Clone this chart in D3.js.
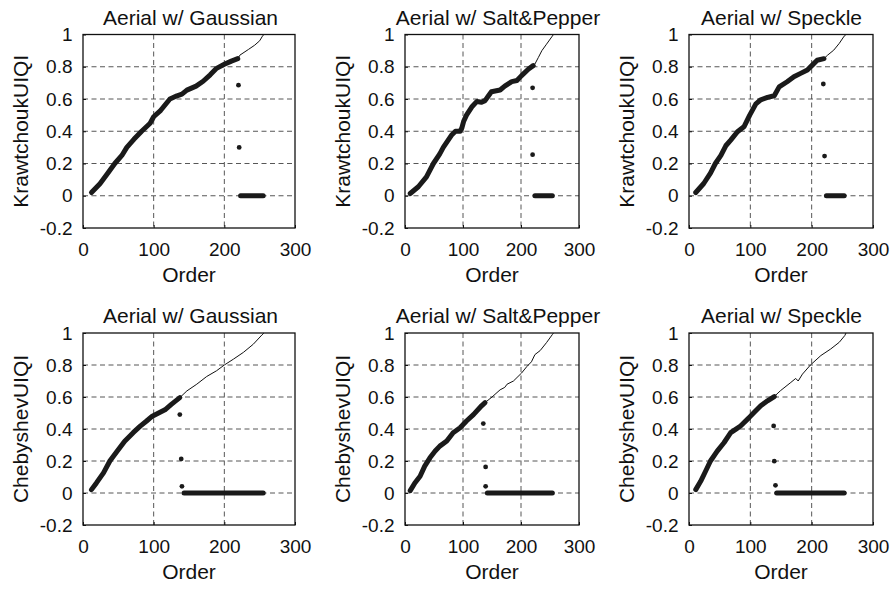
<!DOCTYPE html>
<html>
<head>
<meta charset="utf-8">
<script src="https://cdn.jsdelivr.net/npm/d3@7"></script>
<style>
body { margin: 0; background: #fff; }
svg { display: block; font-family: "Liberation Sans", Arial, Helvetica, sans-serif; }
</style>
</head>
<body>
<script>
var columnTitles = ["Aerial w/ Gaussian", "Aerial w/ Salt&Pepper", "Aerial w/ Speckle"];
var rowLabels = ["KrawtchoukUIQI", "ChebyshevUIQI"];
var xLabel = "Order";
var xTicks = [0, 100, 200, 300];
var yTicks = [-0.2, 0, 0.2, 0.4, 0.6, 0.8, 1];

// [order, UIQI]
var krawGaussThick = [[12,0.02],[24,0.075],[35,0.14],[45,0.2],[55,0.25],[62,0.3],[72,0.35],[83,0.4],[95,0.45],[100,0.49],[110,0.53],[123,0.6],[133,0.62],[140,0.63],[147,0.655],[160,0.68],[170,0.71],[180,0.75],[189,0.79],[200,0.815],[210,0.835],[219,0.85]];
var krawGaussTail = [[219,0.85],[222,0.872],[234,0.907],[243,0.934],[250,0.961],[254,0.99],[256,1]];
var krawGaussStray = [[220,0.686],[221,0.30]];
var krawGaussZero = [[223,0],[255,0]];

var krawSaltThick = [[9,0.014],[23,0.056],[37,0.117],[49,0.2],[60,0.26],[66,0.3],[80,0.375],[87,0.4],[95,0.4],[98,0.42],[101,0.46],[106,0.5],[115,0.55],[124,0.585],[132,0.58],[138,0.59],[144,0.62],[149,0.645],[164,0.656],[172,0.68],[184,0.708],[193,0.715],[201,0.745],[213,0.786],[221,0.807]];
var krawSaltTail = [[221,0.807],[224,0.817],[230,0.858],[236,0.9],[244,0.94],[253,0.985],[256,1]];
var krawSaltStray = [[220,0.669],[220,0.255]];
var krawSaltZero = [[224,0],[254,0]];

var krawSpeckleThick = [[11,0.02],[24,0.076],[35,0.14],[43,0.2],[52,0.25],[60,0.31],[68,0.345],[79,0.397],[90,0.43],[99,0.5],[109,0.57],[117,0.595],[128,0.61],[139,0.62],[147,0.675],[160,0.707],[171,0.738],[182,0.759],[193,0.78],[201,0.81],[209,0.84],[220,0.85]];
var krawSpeckleTail = [[220,0.85],[226,0.872],[236,0.903],[245,0.945],[253,0.99],[256,1]];
var krawSpeckleStray = [[219,0.693],[221,0.246]];
var krawSpeckleZero = [[224,0],[253,0]];

var chebGaussThick = [[12,0.021],[19,0.063],[29,0.126],[38,0.2],[48,0.26],[59,0.324],[71,0.377],[81,0.418],[90,0.45],[98,0.48],[107,0.5],[116,0.52],[125,0.554],[137,0.596]];
var chebGaussTail = [[137,0.596],[147,0.638],[161,0.68],[175,0.728],[189,0.764],[200,0.8],[213,0.837],[227,0.879],[241,0.93],[253,0.987],[256,1]];
var chebGaussStray = [[137,0.49],[139,0.213],[140,0.042]];
var chebGaussZero = [[143,0],[255,0]];

var chebSaltThick = [[9,0.015],[17,0.063],[26,0.105],[34,0.168],[43,0.22],[52,0.262],[60,0.293],[72,0.325],[83,0.377],[95,0.408],[106,0.45],[118,0.49],[132,0.545],[138,0.565]];
var chebSaltTail = [[138,0.565],[150,0.6],[164,0.645],[172,0.66],[176,0.68],[187,0.7],[201,0.75],[210,0.79],[218,0.82],[224,0.865],[233,0.89],[244,0.94],[254,0.99],[256,1]];
var chebSaltStray = [[135,0.434],[139,0.163],[139,0.042]];
var chebSaltZero = [[142,0],[254,0]];

var chebSpeckleThick = [[11,0.021],[19,0.073],[27,0.136],[35,0.2],[46,0.262],[57,0.314],[68,0.377],[76,0.398],[84,0.419],[98,0.471],[106,0.503],[117,0.545],[128,0.576],[139,0.603]];
var chebSpeckleTail = [[139,0.603],[149,0.639],[166,0.691],[174,0.716],[178,0.70],[185,0.743],[198,0.8],[215,0.859],[231,0.9],[245,0.942],[254,0.984],[256,1]];
var chebSpeckleStray = [[138,0.419],[139,0.199],[141,0.048]];
var chebSpeckleZero = [[143,0],[253,0]];

var panels = [
    { row: 0, col: 0, thick: krawGaussThick, tail: krawGaussTail, stray: krawGaussStray, zero: krawGaussZero },
    { row: 0, col: 1, thick: krawSaltThick, tail: krawSaltTail, stray: krawSaltStray, zero: krawSaltZero },
    { row: 0, col: 2, thick: krawSpeckleThick, tail: krawSpeckleTail, stray: krawSpeckleStray, zero: krawSpeckleZero },
    { row: 1, col: 0, thick: chebGaussThick, tail: chebGaussTail, stray: chebGaussStray, zero: chebGaussZero },
    { row: 1, col: 1, thick: chebSaltThick, tail: chebSaltTail, stray: chebSaltStray, zero: chebSaltZero },
    { row: 1, col: 2, thick: chebSpeckleThick, tail: chebSpeckleTail, stray: chebSpeckleStray, zero: chebSpeckleZero }
];

// layout, in page pixels
var columns = [
    { left: 83, right: 295, titleX: 190.5 },
    { left: 405, right: 579, titleX: 498 },
    { left: 689, right: 873, titleX: 781.5 }
];
var rows = [{ top: 34.5, bottom: 228 }, { top: 333, bottom: 525 }];

var svg = d3.select("body").append("svg")
    .attr("width", 894)
    .attr("height", 589);

for (var panel of panels) {
    makePanel(panel);
}

function makePanel(p) {
    var c = columns[p.col];
    var r = rows[p.row];
    var x = d3.scaleLinear().domain([0, 300]).range([c.left, c.right]);
    var y = d3.scaleLinear().domain([-0.2, 1]).range([r.bottom, r.top]);
    var g = svg.append("g");

    // dashed grid
    g.selectAll(".vgrid").data(xTicks.slice(1, -1)).enter().append("line")
        .attr("x1", d => x(d)).attr("x2", d => x(d))
        .attr("y1", r.top).attr("y2", r.bottom)
        .attr("stroke", "#444").attr("stroke-width", 0.9).attr("stroke-dasharray", "5,3.5");
    g.selectAll(".hgrid").data(yTicks.slice(1, -1)).enter().append("line")
        .attr("x1", c.left).attr("x2", c.right)
        .attr("y1", d => y(d)).attr("y2", d => y(d))
        .attr("stroke", "#444").attr("stroke-width", 0.9).attr("stroke-dasharray", "5,3.5");

    var line = d3.line().x(d => x(d[0])).y(d => y(d[1]));

    // thin curve over the whole order range
    g.append("path")
        .datum(p.thick.concat(p.tail.slice(1)))
        .attr("fill", "none").attr("stroke", "#111").attr("stroke-width", 1)
        .attr("d", line);

    // dense markers, drawn as a heavy band
    g.append("path")
        .datum(p.thick)
        .attr("fill", "none").attr("stroke", "#1a1a1a").attr("stroke-width", 5)
        .attr("stroke-linecap", "round").attr("stroke-linejoin", "round")
        .attr("d", line);
    g.append("path")
        .datum(p.zero)
        .attr("fill", "none").attr("stroke", "#1a1a1a").attr("stroke-width", 5)
        .attr("stroke-linecap", "round")
        .attr("d", line);
    g.selectAll(".stray").data(p.stray).enter().append("circle")
        .attr("cx", d => x(d[0])).attr("cy", d => y(d[1]))
        .attr("r", 2.4).attr("fill", "#1a1a1a");

    // axes with inward ticks
    var xAxis = g.append("g")
        .attr("transform", "translate(0," + r.bottom + ")")
        .call(d3.axisBottom(x).tickValues(xTicks).tickSize(-3).tickPadding(14.5).tickFormat(d => String(d)));
    var yAxis = g.append("g")
        .attr("transform", "translate(" + c.left + ",0)")
        .call(d3.axisLeft(y).tickValues(yTicks).tickSize(-3).tickPadding(10.5).tickFormat(d => String(d)));
    for (var axis of [xAxis, yAxis]) {
        axis.select(".domain").remove();
        axis.attr("font-family", null).attr("font-size", null);
        axis.selectAll("text").attr("fill", "#111").style("font-size", "19px");
        axis.selectAll("line").attr("stroke", "#111");
    }

    g.append("rect")
        .attr("x", c.left).attr("y", r.top)
        .attr("width", c.right - c.left).attr("height", r.bottom - r.top)
        .attr("fill", "none").attr("stroke", "#111").attr("stroke-width", 1.3);

    var midX = (c.left + c.right) / 2;
    var midY = (r.top + r.bottom) / 2;
    g.append("text")
        .attr("x", c.titleX).attr("y", r.top - 10)
        .attr("text-anchor", "middle").attr("fill", "#111")
        .style("font-size", "21px")
        .text(columnTitles[p.col]);
    g.append("text")
        .attr("x", midX).attr("y", r.bottom + 54)
        .attr("text-anchor", "middle").attr("fill", "#111")
        .style("font-size", "21px")
        .text(xLabel);
    g.append("text")
        .attr("transform", "translate(" + (c.left - 55) + "," + midY + ") rotate(-90)")
        .attr("text-anchor", "middle").attr("fill", "#111")
        .style("font-size", "21px")
        .text(rowLabels[p.row]);
}
</script>
</body>
</html>
